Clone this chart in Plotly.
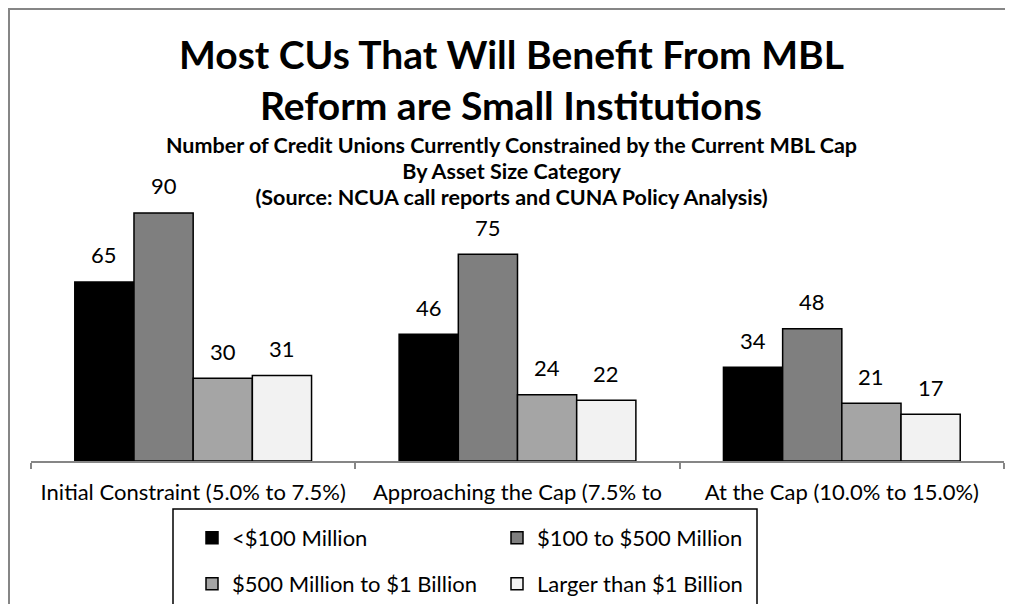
import plotly.graph_objects as go

categories = ["Initial Constraint (5.0% to 7.5%)",
              "Approaching the Cap (7.5% to<br>10.0%)",
              "At the Cap (10.0% to 15.0%)"]
series_names = ["<$100 Million", "$100 to $500 Million",
                "$500 Million to $1 Billion", "Larger than $1 Billion"]
series_values = [
    [65, 46, 34],
    [90, 75, 48],
    [30, 24, 21],
    [31, 22, 17],
]
series_colors = ["#000000", "#7F7F7F", "#A5A5A5", "#F2F2F2"]
series_legend = ["legend", "legend", "legend2", "legend2"]
title_lines = ["Most CUs That Will Benefit From MBL", "Reform are Small Institutions"]
subtitle_lines = ["Number of Credit Unions Currently Constrained by the Current MBL Cap",
                  "By Asset Size Category",
                  "(Source: NCUA call reports and CUNA Policy Analysis)"]

# page is offset by the browser's 8px body margin
OFF = 8
W, H = 1013 - OFF, 604 - OFF
ML, MR, MT, MB = 31 - OFF, 9, 100 - OFF, 143
PW, PH = W - ML - MR, H - MT - MB
BARGAP = 0.27

def xp(px):  # page pixel -> paper
    return (px - OFF - ML) / PW

def yp(py):
    return (H - MB - (py - OFF)) / PH

FONT = "Lato"

fig = go.Figure()
for name, vals, col, lg in zip(series_names, series_values, series_colors, series_legend):
    fig.add_trace(go.Bar(
        x=categories, y=vals, name=name, legend=lg,
        marker=dict(color=col, line=dict(color="#000000", width=1.5)),
    ))

# data labels anchored to each bar's value
n_series = len(series_values)
bar_w = PW / len(categories) * (1 - BARGAP) / n_series
for i, vals in enumerate(series_values):
    for cat, v in zip(categories, vals):
        fig.add_annotation(x=cat, y=v, xref="x", yref="y", text=str(v),
                           showarrow=False, yanchor="middle",
                           xshift=(i - (n_series - 1) / 2) * bar_w, yshift=27,
                           font=dict(family=FONT, size=22, color="#000000"))

fig.update_layout(
    width=W, height=H,
    margin=dict(l=ML, r=MR, t=MT, b=MB, autoexpand=False),
    paper_bgcolor="white", plot_bgcolor="white",
    barmode="group", bargap=BARGAP, bargroupgap=0,
    font=dict(family=FONT, color="#000000"),
    showlegend=True,
    xaxis=dict(showline=True, linecolor="#868686", linewidth=1.5,
               ticks="outside", ticklen=6, tickcolor="#868686", tickwidth=1.5,
               tickson="boundaries", ticklabelstandoff=11,
               tickfont=dict(family=FONT, size=22, color="#000000"),
               showgrid=False, zeroline=False, fixedrange=True),
    yaxis=dict(range=[0, 131], visible=False, showgrid=False, zeroline=False),
    legend=dict(orientation="h", x=xp(192), y=yp(538), xanchor="left", yanchor="middle",
                entrywidth=260, bgcolor="rgba(0,0,0,0)", borderwidth=0,
                font=dict(family=FONT, size=22, color="#000000")),
    legend2=dict(orientation="h", x=xp(192), y=yp(584), xanchor="left", yanchor="middle",
                 entrywidth=260, bgcolor="rgba(0,0,0,0)", borderwidth=0,
                 font=dict(family=FONT, size=22, color="#000000")),
)

# outer chart border (top and left visible)
fig.add_shape(type="rect", xref="paper", yref="paper", layer="above",
              x0=xp(9), x1=xp(1030), y0=yp(9), y1=yp(640),
              line=dict(color="#868686", width=2), fillcolor="rgba(0,0,0,0)")
# legend box
fig.add_shape(type="rect", xref="paper", yref="paper", layer="above",
              x0=xp(173), x1=xp(757), y0=yp(509), y1=yp(640),
              line=dict(color="#000000", width=1.5), fillcolor="white")

for txt, py in zip(title_lines, [54, 105]):
    fig.add_annotation(text="<b>" + txt + "</b>", xref="paper", yref="paper",
                       x=xp(511), y=yp(py), xanchor="center", yanchor="middle",
                       showarrow=False, font=dict(family=FONT, size=39, color="#000000"))

# subtitle: one block, base size sets line spacing, spans set glyph size
sub_text = "<br>".join("<span style='font-size:21.5px'><b>" + s + "</b></span>"
                       for s in subtitle_lines)
fig.add_annotation(text=sub_text, xref="paper", yref="paper",
                   x=xp(511), y=yp(171), xanchor="center", yanchor="middle",
                   showarrow=False, font=dict(family=FONT, size=20, color="#000000"))

fig.write_html("out.html")
